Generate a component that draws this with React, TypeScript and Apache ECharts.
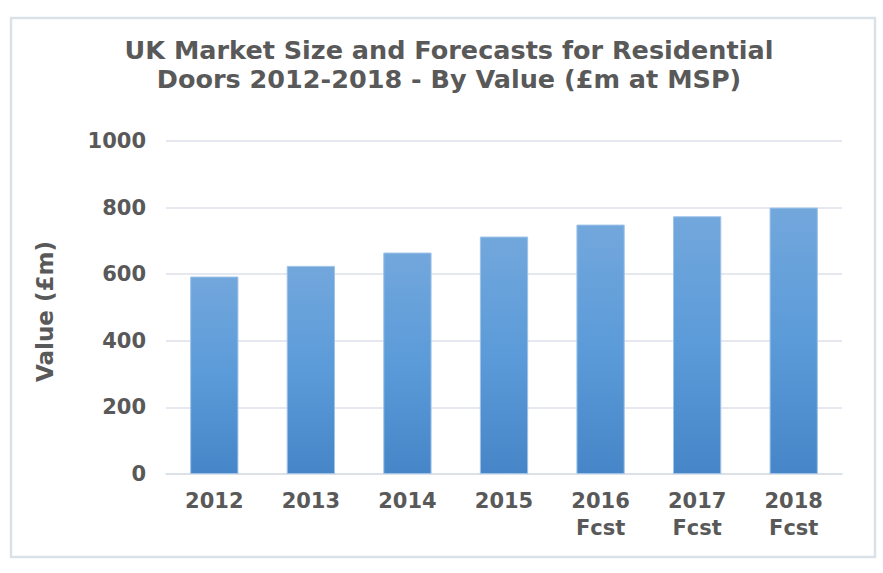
import React, { useEffect, useRef } from "react";
import * as echarts from "echarts";

const titleLines = [
  "UK Market Size and Forecasts for Residential",
  "Doors 2012-2018 - By Value (£m at MSP)",
];
const categories = ["2012", "2013", "2014", "2015", "2016\nFcst", "2017\nFcst", "2018\nFcst"];
const values = [593, 625, 665, 713, 749, 774, 800];
const yAxisName = "Value (£m)";
const yMin = 0;
const yMax = 1000;
const yInterval = 200;

const TEXT = "#595959";
const FONT = "'DejaVu Sans', Verdana, sans-serif";

export default function App() {
  const ref = useRef<HTMLDivElement>(null);
  useEffect(() => {
    document.body.style.margin = "0";
    const chart = echarts.init(ref.current!, undefined, { renderer: "svg" });
    chart.setOption({
      animation: false,
      backgroundColor: "#ffffff",
      graphic: [
        {
          type: "rect",
          shape: { x: 11, y: 18, width: 864, height: 539 },
          style: { fill: "none", stroke: "#dbe1e9", lineWidth: 2.5 },
          silent: true,
        },
        {
          type: "text",
          x: 449,
          y: 35,
          style: {
            text: titleLines.join("\n"),
            textAlign: "center",
            textVerticalAlign: "top",
            fill: TEXT,
            font: `bold 25.5px ${FONT}`,
            lineHeight: 29.5,
          },
        },
      ],
      grid: { left: 166, right: 41, top: 141, bottom: 99, containLabel: false },
      xAxis: {
        type: "category",
        data: categories,
        axisLine: { lineStyle: { color: "#d9dee6", width: 1.5 } },
        axisTick: { show: false },
        axisLabel: {
          color: TEXT,
          fontFamily: FONT,
          fontWeight: "bold",
          fontSize: 21,
          lineHeight: 27,
          margin: 13,
        },
      },
      yAxis: {
        type: "value",
        min: yMin,
        max: yMax,
        interval: yInterval,
        name: yAxisName,
        nameLocation: "middle",
        nameGap: 110,
        nameTextStyle: {
          color: TEXT,
          fontFamily: FONT,
          fontWeight: "bold",
          fontSize: 23,
          padding: [0, 8, 0, 0],
        },
        axisLine: { show: false },
        axisTick: { show: false },
        splitLine: { lineStyle: { color: "#dde2ea", width: 1.5 } },
        axisLabel: {
          color: TEXT,
          fontFamily: FONT,
          fontWeight: "bold",
          fontSize: 21,
          margin: 20,
          formatter: (v: number) => String(v),
        },
      },
      series: [
        {
          type: "bar",
          data: values,
          barWidth: "50%",
          itemStyle: {
            color: new echarts.graphic.LinearGradient(0, 0, 0, 1, [
              { offset: 0, color: "#72a7dc" },
              { offset: 0.5, color: "#5b9bd9" },
              { offset: 1, color: "#4686c8" },
            ]),
            borderColor: "#9fc3e8",
            borderWidth: 1,
          },
        },
      ],
    });
    return () => chart.dispose();
  }, []);
  return <div ref={ref} style={{ width: 883, height: 573 }} />;
}
